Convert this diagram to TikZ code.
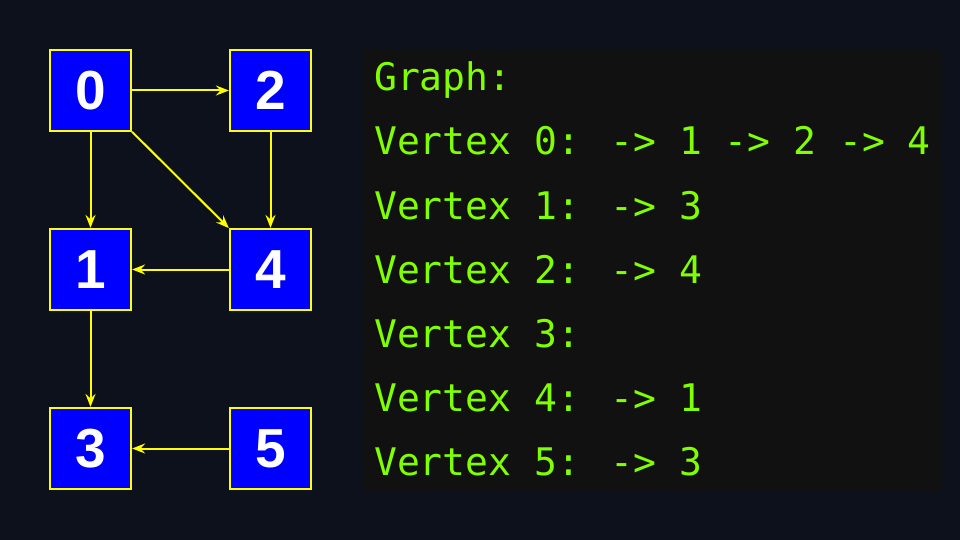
\documentclass[tikz,border=0pt]{standalone}
\usepackage{fontspec}
\setmainfont{Liberation Sans}
\newfontfamily\monofont{DejaVu Sans Mono}
\usetikzlibrary{arrows.meta}
\definecolor{bgdark}{HTML}{0D111C}
\definecolor{panelgray}{HTML}{111111}
\definecolor{vblue}{HTML}{0000FF}
\definecolor{edgeyellow}{HTML}{FFFF00}
\definecolor{termgreen}{HTML}{7FFF00}
\tikzset{vertex/.style={draw=edgeyellow,line width=2.2pt,fill=vblue,minimum size=81pt,inner sep=0pt,text=white,font=\fontsize{55}{55}\selectfont\bfseries},
edge/.style={draw=edgeyellow,line width=2pt,-{Stealth[length=13pt,width=10pt,inset=4.5pt]}},
termline/.style={anchor=base west,inner sep=0pt,text=termgreen,font=\monofont\fontsize{38}{38}\selectfont}}

\begin{document}
\begin{tikzpicture}[x=1pt,y=-1pt]
\fill[bgdark](0,0)rectangle(960,540);
\fill[panelgray](364,49)rectangle(942,491);
\node[vertex](v0) at (90.5,90.5){0};
\node[vertex](v2) at (270.5,90.5){2};
\node[vertex](v1) at (90.5,269.5){1};
\node[vertex](v4) at (270.5,269.5){4};
\node[vertex](v3) at (90.5,448.5){3};
\node[vertex](v5) at (270.5,448.5){5};
\draw[edge](v0)--(v2);
\draw[edge](v0)--(v1);
\draw[edge](v0)--(v4);
\draw[edge](v2)--(v4);
\draw[edge](v4)--(v1);
\draw[edge](v1)--(v3);
\draw[edge](v5)--(v3);
\node[termline](g) at (374,91){Graph:};
\node[termline](t0) at (374,155){Vertex 0: -> 1 -> 2 -> 4};
\node[termline](t1) at (374,219){Vertex 1: -> 3};
\node[termline](t2) at (374,283){Vertex 2: -> 4};
\node[termline](t3) at (374,347){Vertex 3:};
\node[termline](t4) at (374,411){Vertex 4: -> 1};
\node[termline](t5) at (374,475){Vertex 5: -> 3};
\end{tikzpicture}
\end{document}
